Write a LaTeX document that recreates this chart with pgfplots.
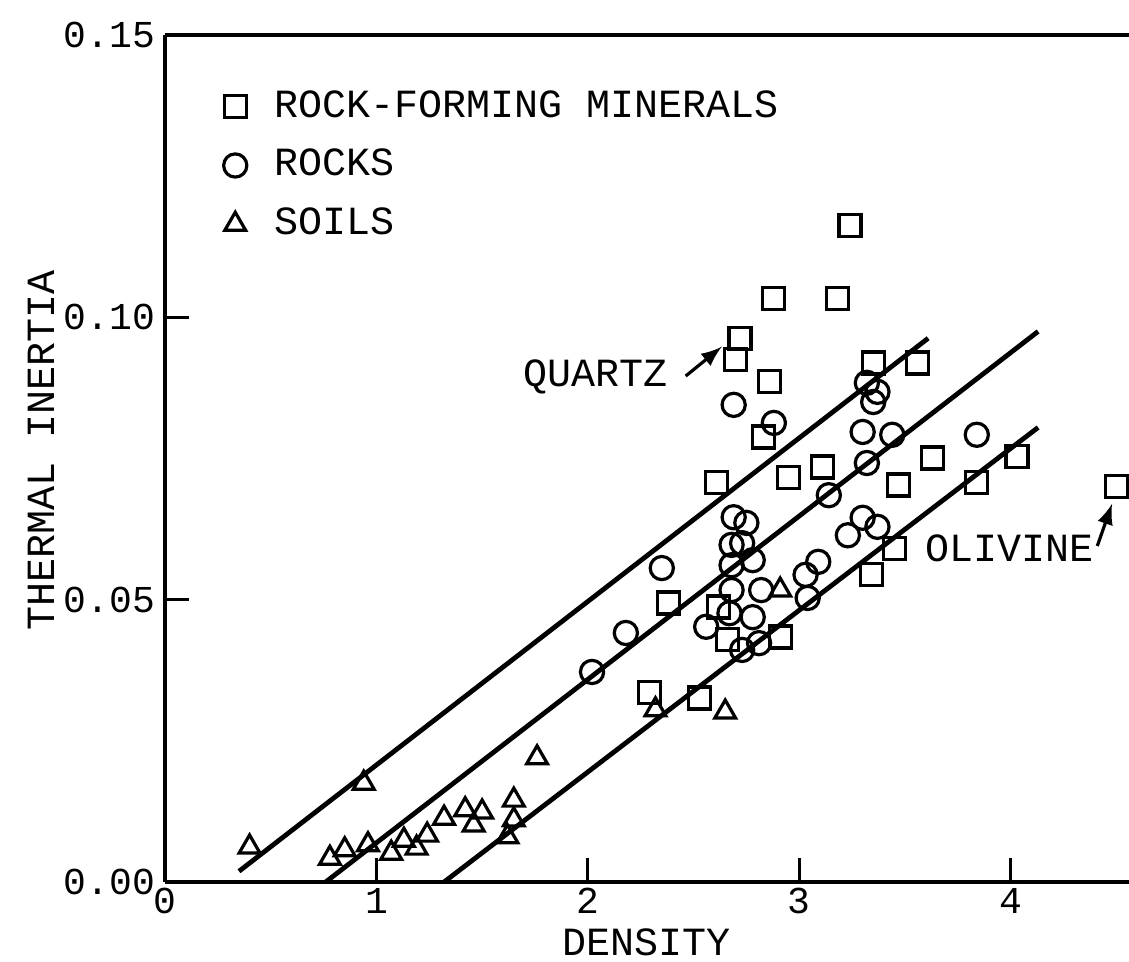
\documentclass[border=0pt]{standalone}
\usepackage{fontspec}
\setmainfont{Liberation Mono}
\usepackage{pgfplots}
\pgfplotsset{compat=1.18}
\begin{document}
\begin{tikzpicture}
\begin{axis}[
  name=ax,
  scale only axis,
  width=241pt, height=211.75pt,
  xmin=0, xmax=4.56, ymin=0, ymax=0.15,
  axis x line=box, axis y line=left,
  axis line style={-, line width=1pt},
  xtick={0,1,2,3,4}, ytick={0,0.05,0.10,0.15},
  xtick pos=left, ytick pos=left,
  tick align=inside, major tick length=6pt,
  tick style={line width=0.8pt, black},
  scaled y ticks=false,
  yticklabel style={/pgf/number format/.cd, fixed, fixed zerofill, precision=2, /tikz/.cd, xshift=1pt},
  xticklabel style={yshift=2pt},
  /pgf/number format/assume math mode=true,
  ticklabel style={font=\fontsize{9.5}{11}\selectfont},
  xlabel={DENSITY}, ylabel={THERMAL INERTIA},
  label style={font=\fontsize{10}{12}\selectfont},
  xlabel style={at={(axis description cs:0.5,-0.071)}, anchor=center, inner sep=1pt},
  ylabel style={at={(axis description cs:-0.128,0.51)}, anchor=center},
  legend style={draw=none, fill=none, at={(0.06,0.945)}, anchor=north west,
    font=\fontsize{10}{12}\selectfont, row sep=2.5pt, inner sep=0pt},
  legend cell align=left,
  clip=false,
]
% fitted lines
\addplot[forget plot, black, line width=1.2pt] coordinates {(0.35,0.0019) (3.61,0.0963)};
\addplot[forget plot, black, line width=1.2pt] coordinates {(0.76,0.0) (4.13,0.0975)};
\addplot[forget plot, black, line width=1.2pt] coordinates {(1.32,0.0) (4.13,0.0805)};

% rock-forming minerals
\addplot[only marks, mark=square, mark size=2.75pt, mark options={line width=0.8pt, fill=none}, black] coordinates {
(3.24,0.1163) (2.88,0.1034) (3.18,0.1034) (2.72,0.0963) (2.70,0.0926)
(2.86,0.0887) (3.35,0.0919) (3.56,0.0919) (2.83,0.0788) (2.61,0.0708)
(2.95,0.0717) (3.11,0.0735) (3.63,0.0751) (3.47,0.0703) (3.84,0.0708)
(4.03,0.0754) (4.50,0.0700) (3.45,0.0591) (3.34,0.0544) (2.38,0.0494)
(2.62,0.0487) (2.66,0.0429) (2.91,0.0434) (2.29,0.0336) (2.53,0.0326)
};
\addlegendentry{\hspace{5pt}ROCK-FORMING MINERALS}

% rocks
\addplot[only marks, mark=o, mark size=2.9pt, mark options={line width=0.8pt, fill=none}, black] coordinates {
(2.69,0.0845) (2.88,0.0813) (3.32,0.0884) (3.37,0.0868) (3.35,0.0850)
(3.30,0.0797) (3.44,0.0792) (3.32,0.0742) (3.84,0.0792) (3.14,0.0685)
(2.35,0.0556) (2.69,0.0646) (2.75,0.0636) (2.68,0.0597) (2.73,0.0600)
(2.78,0.0570) (2.68,0.0561) (2.68,0.0517) (2.67,0.0476) (2.82,0.0517)
(2.78,0.0469) (2.56,0.0452) (2.73,0.0411) (2.81,0.0423) (3.09,0.0567)
(3.03,0.0544) (3.04,0.0503) (3.30,0.0645) (3.37,0.0629) (3.23,0.0614)
(2.18,0.0441) (2.02,0.0372)
};
\addlegendentry{\hspace{5pt}ROCKS}

% soils
\addplot[only marks, mark=triangle, mark size=3pt, mark options={line width=0.8pt, fill=none}, black] coordinates {
(0.40,0.0062) (0.94,0.0175) (1.76,0.0220) (1.65,0.0145) (1.65,0.0110)
(1.62,0.0080) (0.78,0.0042) (0.85,0.0057) (0.96,0.0066) (1.07,0.0051)
(1.13,0.0074) (1.19,0.0060) (1.24,0.0083) (1.32,0.0113) (1.42,0.0128)
(1.46,0.0101) (1.50,0.0124) (2.91,0.0517) (2.32,0.0305) (2.65,0.0301)
};
\addlegendentry{\hspace{5pt}SOILS}

% annotations
\node[anchor=east, font=\fontsize{10}{12}\selectfont, inner sep=1pt] at (axis cs:2.40,0.0894) {QUARTZ};
\draw[-latex, line width=0.8pt] (axis cs:2.463,0.0896) -- (axis cs:2.634,0.0948);
\node[anchor=west, font=\fontsize{10}{12}\selectfont, inner sep=1pt] at (axis cs:3.575,0.0591) {OLIVINE};
\draw[-latex, line width=0.8pt] (axis cs:4.41,0.0595) -- (axis cs:4.48,0.0670);
\end{axis}
\pgfresetboundingbox
\path ([xshift=-41.25pt,yshift=-19.75pt]ax.south west) rectangle ([yshift=8.75pt]ax.north east);
\end{tikzpicture}
\end{document}
